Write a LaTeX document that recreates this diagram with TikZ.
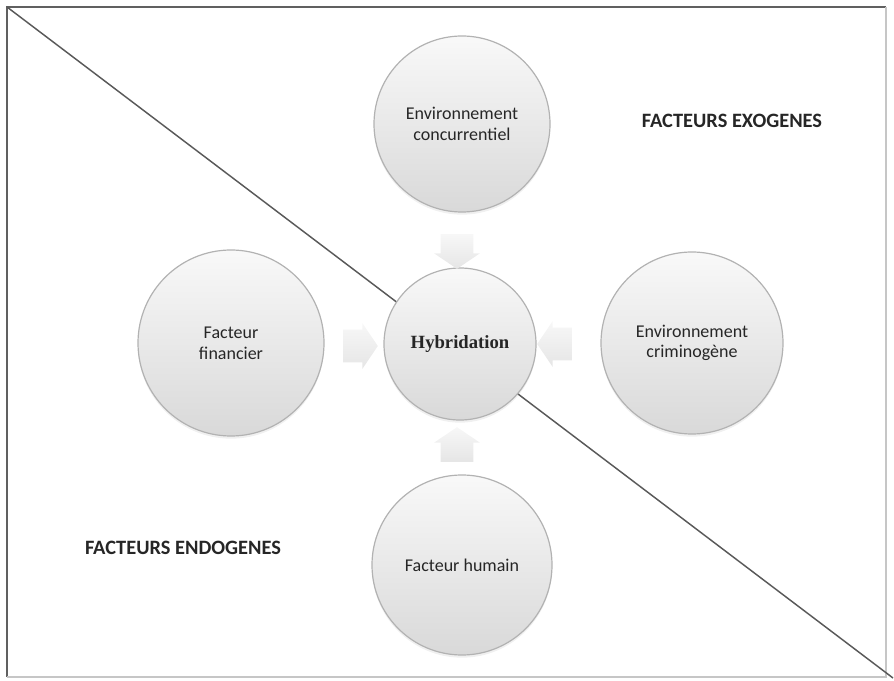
\documentclass[tikz,border=0pt]{standalone}
\usepackage{fontspec}
\setmainfont{Carlito}
\newfontfamily\hybfont{Liberation Serif}
\usetikzlibrary{shapes.arrows,shadows}

\begin{document}
\begin{tikzpicture}[x=0.75pt, y=-0.75pt,
    factor/.style={circle, draw=gray!60, line width=0.9pt, top color=gray!5, bottom color=gray!30,
        minimum size=#1, inner sep=0pt, align=center, text=black!85,
        font=\fontsize{13.5}{15.5}\selectfont,
        drop shadow={opacity=0.12, shadow xshift=0pt, shadow yshift=-2pt}},
    push/.style={single arrow, draw=none, rotate=#1, top color=gray!6, bottom color=gray!20,
        minimum height=26pt, inner xsep=0pt, inner ysep=12pt,
        single arrow head extend=5pt, single arrow tip angle=112},
    zone/.style={font=\fontsize{15.3}{18}\selectfont\bfseries, text=black!85}]
    \useasboundingbox (0,0) rectangle (894,681);

    \draw[gray!75!black, line width=1pt] (7,677) -- (7,7) -- (886,7);
    \draw[gray!45, line width=1pt] (7,677) -- (886,677) -- (886,7);
    \draw[gray!70!black, line width=1.1pt] (7,7) -- (893,678);

    \node[factor=132pt] (concur) at (462,124) {Environnement\\concurrentiel};
    \node[factor=114pt] (hyb) at (460,344) {\hybfont\bfseries\fontsize{14}{16}\selectfont Hybridation};
    \node[factor=139.5pt] (fin) at (231,343) {Facteur\\financier};
    \node[factor=136.5pt] (crim) at (692,343) {Environnement\\criminog\`ene};
    \node[factor=135pt] (hum) at (462,565) {Facteur humain};

    \node[push=-90] (pconcur) at (457,246) {};
    \node[push=0] (pfin) at (355,346) {};
    \node[push=180] (pcrim) at (560,344) {};
    \node[push=90] (phum) at (457,450) {};

    \node[zone] (exo) at (732,121) {FACTEURS EXOGENES};
    \node[zone] (endo) at (183,548) {FACTEURS ENDOGENES};
\end{tikzpicture}
\end{document}
